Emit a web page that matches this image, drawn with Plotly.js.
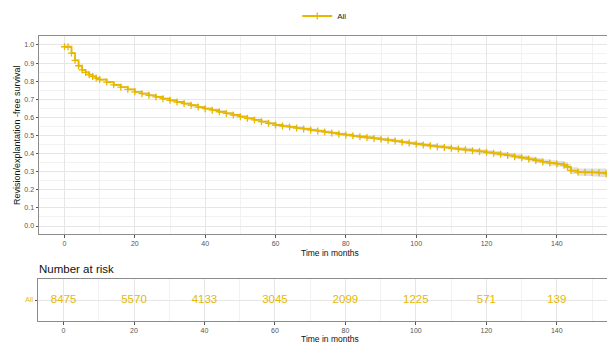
<!DOCTYPE html>
<html>
<head>
<meta charset="utf-8">
<script src="https://cdn.plot.ly/plotly-3.0.1.min.js"></script>
<style>html,body{margin:0;padding:0;background:#fff;}#chart{width:607px;height:343px;}</style>
</head>
<body>
<div id="chart"></div>
<script>
// Kaplan-Meier estimate
var times = [0,1,2,3,4,5,6,7,8,9,10,12,14,16,18,20,22,24,26,28,30,32,34,36,38,40,42,44,46,48,50,52,54,56,58,60,62,64,66,68,70,72,74,76,78,80,82,84,86,88,90,92,94,96,98,100,102,104,106,108,110,112,114,116,118,120,122,124,126,128,130,132,134,136,138,140,142,143,144,146,148,150,152,154,155];
var surv = [0.99,0.99,0.955,0.915,0.885,0.862,0.848,0.836,0.826,0.817,0.809,0.795,0.780,0.767,0.755,0.741,0.731,0.722,0.713,0.703,0.694,0.685,0.676,0.667,0.657,0.648,0.640,0.631,0.622,0.613,0.604,0.595,0.586,0.576,0.567,0.558,0.552,0.547,0.541,0.536,0.530,0.525,0.519,0.514,0.508,0.503,0.498,0.493,0.489,0.484,0.479,0.474,0.469,0.463,0.458,0.453,0.448,0.443,0.438,0.434,0.429,0.425,0.421,0.416,0.412,0.407,0.402,0.396,0.390,0.383,0.377,0.370,0.362,0.354,0.348,0.343,0.336,0.326,0.306,0.298,0.297,0.296,0.294,0.289,0.288];
var ciHalf = [0.002,0.002,0.003,0.003,0.003,0.004,0.004,0.004,0.004,0.004,0.005,0.005,0.005,0.005,0.005,0.005,0.006,0.006,0.006,0.006,0.006,0.006,0.006,0.006,0.006,0.007,0.007,0.007,0.007,0.007,0.007,0.007,0.007,0.007,0.007,0.007,0.008,0.008,0.008,0.008,0.008,0.008,0.008,0.008,0.008,0.008,0.008,0.009,0.009,0.009,0.009,0.009,0.009,0.009,0.009,0.009,0.010,0.010,0.010,0.010,0.010,0.010,0.011,0.011,0.011,0.011,0.012,0.012,0.012,0.013,0.013,0.013,0.014,0.014,0.015,0.016,0.017,0.018,0.019,0.020,0.021,0.022,0.023,0.024,0.025];

// Risk table
var riskTimes = [0,20,40,60,80,100,120,140];
var riskCounts = [8475,5570,4133,3045,2099,1225,571,139];
var groupName = 'All';

var gold = '#E7B800';
var ciLow = surv.map(function(v,i){return v - ciHalf[i];});
var ciHigh = surv.map(function(v,i){return v + ciHalf[i];});

var traces = [
  {x: times, y: ciLow, type:'scatter', mode:'lines', line:{width:0, shape:'hv'}, showlegend:false, hoverinfo:'skip', xaxis:'x', yaxis:'y'},
  {x: times, y: ciHigh, type:'scatter', mode:'lines', line:{width:0, shape:'hv'}, fill:'tonexty', fillcolor:'rgba(170,170,170,0.35)', showlegend:false, hoverinfo:'skip', xaxis:'x', yaxis:'y'},
  {x: times, y: surv, type:'scatter', mode:'lines+markers', name: groupName,
   line:{color:gold, width:1.8, shape:'hv'},
   marker:{symbol:'cross-thin', size:5, line:{color:gold, width:1.3}, color:gold},
   xaxis:'x', yaxis:'y'},
  {x: riskTimes, y: riskTimes.map(function(){return 0;}), type:'scatter', mode:'text',
   text: riskCounts.map(String), textfont:{color:gold, size:11.5, family:'Liberation Sans, Arial, sans-serif'},
   showlegend:false, hoverinfo:'skip', xaxis:'x2', yaxis:'y2'}
];

var axisCommon = {
  showline:true, mirror:true, linecolor:'#8c8c8c', linewidth:1,
  ticks:'outside', ticklen:2.5, tickcolor:'#555', tickwidth:1,
  tickfont:{size:7, color:'#555', family:'Liberation Sans, Arial, sans-serif'},
  gridcolor:'#e6e6e6', gridwidth:1, zeroline:false
};
function ax(extra){ var o = {}; for (var k in axisCommon) o[k]=axisCommon[k]; for (var k2 in extra) o[k2]=extra[k2]; return o; }

var xr = [-7.25, 154.25];
var layout = {
  width:607, height:343,
  margin:{l:0, r:0, t:0, b:0},
  paper_bgcolor:'#fff', plot_bgcolor:'#fff',
  showlegend:true,
  legend:{orientation:'h', x:0.535, xanchor:'center', y:1-16/343, yanchor:'middle',
          font:{size:8, color:'#222', family:'Liberation Sans, Arial, sans-serif'}},
  xaxis: ax({domain:[39/607, 1], range:xr, tickvals:[0,20,40,60,80,100,120,140], anchor:'y',
             minor:{dtick:10, tick0:0, showgrid:true, gridcolor:'#f2f2f2'}}),
  yaxis: ax({domain:[1-234/343, 1-35.7/343], range:[-0.044, 1.051], dtick:0.1, tick0:0, tickformat:'.1f', anchor:'x',
             minor:{dtick:0.05, tick0:0, showgrid:true, gridcolor:'#f2f2f2'}}),
  xaxis2: ax({domain:[38/607, 1], range:xr, tickvals:[0,20,40,60,80,100,120,140], anchor:'y2',
             minor:{dtick:10, tick0:0, showgrid:true, gridcolor:'#f2f2f2'}}),
  yaxis2: ax({domain:[1-321/343, 1-279/343], range:[-1, 1], tickvals:[0], ticktext:[groupName], anchor:'x2',
             tickfont:{size:7, color:gold, family:'Liberation Sans, Arial, sans-serif'}}),
  annotations:[
    {text:'Time in months', xref:'paper', yref:'paper', x:330/607, y:1-252.5/343, xanchor:'center', yanchor:'middle', showarrow:false,
     font:{size:8.5, color:'#111', family:'Liberation Sans, Arial, sans-serif'}},
    {text:'Revision/explantation -free survival', xref:'paper', yref:'paper', x:17/607, y:1-135/343, xanchor:'center', yanchor:'middle', textangle:-90, showarrow:false,
     font:{size:9, color:'#111', family:'Liberation Sans, Arial, sans-serif'}},
    {text:'Number at risk', xref:'paper', yref:'paper', x:37/607, y:1-269/343, xanchor:'left', yanchor:'middle', showarrow:false,
     font:{size:11.5, color:'#111', family:'Liberation Sans, Arial, sans-serif'}},
    {text:'Time in months', xref:'paper', yref:'paper', x:330/607, y:1-339/343, xanchor:'center', yanchor:'middle', showarrow:false,
     font:{size:8.5, color:'#111', family:'Liberation Sans, Arial, sans-serif'}}
  ]
};

Plotly.newPlot('chart', traces, layout, {staticPlot:true, displayModeBar:false});
</script>
</body>
</html>
